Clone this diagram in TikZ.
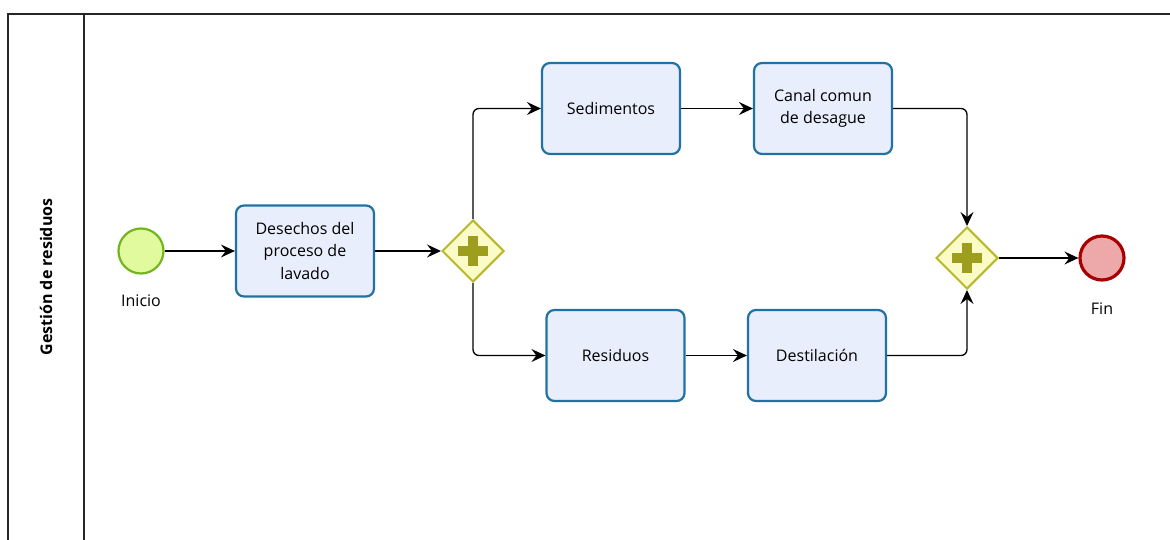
\documentclass[tikz,border=0pt]{standalone}
\usepackage{fontspec}
\setmainfont{Open Sans}
\usetikzlibrary{arrows.meta,shapes.geometric}
\definecolor{taskfill}{HTML}{E8EEFC}
\definecolor{taskdraw}{HTML}{1F72A3}
\definecolor{startfill}{HTML}{E2FA9E}
\definecolor{startdraw}{HTML}{72B51E}
\definecolor{endfill}{HTML}{EDA9A9}
\definecolor{enddraw}{HTML}{A80000}
\definecolor{gwfill}{HTML}{FBFBC8}
\definecolor{gwdraw}{HTML}{B8B82A}
\definecolor{gwplus}{HTML}{9E9E1E}
\tikzset{
  task/.style={draw=taskdraw, fill=taskfill, line width=2.2pt, rounded corners=8pt,
    minimum width=138pt, minimum height=91pt, align=center, font=\fontsize{16}{22}\selectfont, inner sep=0pt},
  startev/.style={circle, draw=startdraw, fill=startfill, line width=2.2pt, minimum size=45pt, inner sep=0pt},
  endev/.style={circle, draw=enddraw, fill=endfill, line width=3.2pt, minimum size=44pt, inner sep=0pt},
  gw/.style={diamond, draw=gwdraw, fill=gwfill, line width=2pt, minimum width=62pt, minimum height=62pt, inner sep=0pt, aspect=1},
  flow/.style={line width=1.3pt, -{Stealth[length=14pt,width=13pt,inset=5pt]}, rounded corners=6pt},
  lbl/.style={font=\fontsize{16}{18}\selectfont, inner sep=0pt},
}
\newcommand{\gwplusmark}[1]{%
  \fill[gwplus] ([xshift=-15pt,yshift=-5pt]#1) rectangle ([xshift=15pt,yshift=5pt]#1);
  \fill[gwplus] ([xshift=-5pt,yshift=-15pt]#1) rectangle ([xshift=5pt,yshift=15pt]#1);}
\begin{document}
\begin{tikzpicture}[x=1pt,y=-1pt]
\useasboundingbox (0,0) rectangle (1170,540);
\begin{scope}
\clip (0,0) rectangle (1170,540);
\draw[line width=1.6pt, black!85] (8,14) rectangle (1180,550);
\draw[line width=1.6pt, black!85] (84,14) -- (84,550);
\end{scope}
\node[rotate=90, font=\fontsize{16}{18}\selectfont\bfseries] (pool) at (46,277) {Gestión de residuos};

\node[startev] (start) at (141,251) {};
\node[lbl] (startl) at (141,301) {Inicio};
\node[task] (t1) at (305,251) {Desechos del\\proceso de\\lavado};
\node[gw] (g1) at (473,251) {};
\gwplusmark{g1.center}
\node[task] (sed) at (611,108.5) {Sedimentos};
\node[task] (can) at (823,108.5) {Canal comun\\de desague};
\node[task] (res) at (615.5,355.5) {Residuos};
\node[task] (des) at (817,355.5) {Destilación};
\node[gw] (g2) at (967,258) {};
\gwplusmark{g2.center}
\node[endev] (fin) at (1102,258) {};
\node[lbl] (finl) at (1102,309) {Fin};

\draw[flow] (start.east) -- (t1.west);
\draw[flow] (t1.east) -- (g1.west);
\draw[flow] (g1.north) |- (sed.west);
\draw[flow] (g1.south) |- (res.west);
\draw[flow] (sed.east) -- (can.west);
\draw[flow] (res.east) -- (des.west);
\draw[flow] (can.east) -| (g2.north);
\draw[flow] (des.east) -| (g2.south);
\draw[flow] (g2.east) -- (fin.west);
\end{tikzpicture}
\end{document}
